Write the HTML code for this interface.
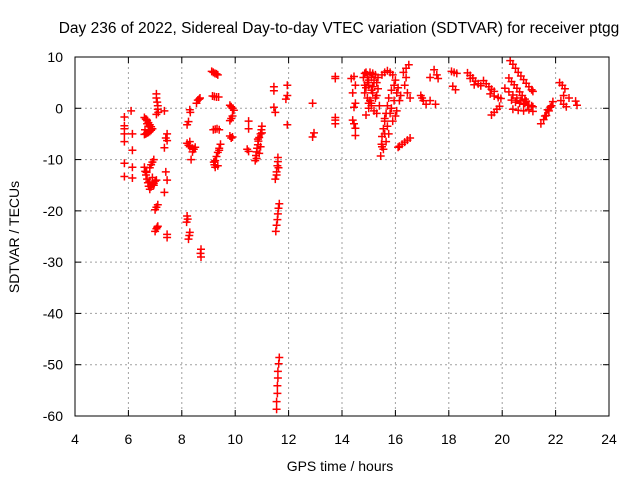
<!DOCTYPE html>
<html><head><meta charset="utf-8"><style>
html,body{margin:0;padding:0;background:#fff}
svg{display:block;font-family:"Liberation Sans",sans-serif}
</style></head><body>
<svg id="chart" width="640" height="480" viewBox="0 0 640 480">
<text x="339" y="33" font-size="15.5" text-anchor="middle" fill="#000">Day 236 of 2022, Sidereal Day-to-day VTEC variation (SDTVAR) for receiver ptgg</text>
<text x="340" y="471" font-size="14" text-anchor="middle" fill="#000">GPS time / hours</text>
<text transform="translate(19,237) rotate(-90)" font-size="14" text-anchor="middle" fill="#000">SDTVAR / TECUs</text>
<g id="grid"></g>
<g id="points"></g>
<rect x="75" y="57" width="534" height="359" fill="none" stroke="#000" stroke-width="1"/>
<g id="ticks"></g>
</svg>
<script>
const xTicks = [4,6,8,10,12,14,16,18,20,22,24];
const yTicks = [10,0,-10,-20,-30,-40,-50,-60];
// [GPS time (h), SDTVAR (TECU)]
const earlyObs = [
[5.85,-1.7],[5.85,-3.4],[5.85,-4.0],[5.85,-5.0],[5.85,-6.5],[5.85,-10.7],[5.85,-13.3],
[6.1,-0.5],[6.15,-5],[6.15,-8.2],[6.15,-11.5],[6.15,-13.6],
[6.6,-1.8],[6.65,-2.1],[6.7,-2.4],[6.75,-2.8],[6.8,-3.2],[6.85,-3.6],[6.9,-4.0],[6.85,-4.3],[6.8,-4.5],[6.75,-4.7],[6.7,-4.8],[6.65,-5.0],[6.6,-5.1],[6.7,-3.0],[6.75,-3.5],[6.62,-4.2],[6.68,-2.2],
[6.95,-10.0],[6.9,-10.5],[6.85,-11.0],[6.8,-11.6],[6.6,-11.5],[6.63,-12.3],[6.66,-13.0],[6.7,-13.8],[6.73,-14.5],[6.76,-15.2],[6.8,-15.8],[6.85,-15.3],[6.9,-14.8],[6.95,-14.6],[7.0,-14.2],[7.05,-14.0],[6.9,-13.5],[6.95,-15.0],[6.68,-12.5],[6.78,-14.2],
[7.05,2.8],[7.05,2.0],[7.08,1.2],[7.1,0.5],[7.1,-0.2],[7.12,-0.8],[7.05,-1.2],[7.1,-18.8],[7.05,-19.3],[7.0,-19.8],[7.1,-23.0],[7.05,-23.5],[7.0,-24.0],[7.08,-23.2],
[7.35,-0.5],[7.45,-5.0],[7.4,-5.8],[7.45,-6.3],[7.35,-7.7],[7.4,-12.4],[7.45,-14.0],[7.35,-16.4],[7.45,-25.2],[7.45,-24.6],
[8.2,-21.0],[8.22,-21.6],[8.18,-22.2],[8.3,-24.2],[8.28,-24.8],[8.25,-25.5],[8.25,-2.6],[8.2,-3.2],[8.3,-0.3],[8.32,-0.8],[8.35,-10.0],[8.2,-6.8],[8.25,-7.2],[8.3,-7.5],[8.4,-7.8],[8.45,-8.0],[8.5,-7.6],[8.4,-8.5],[8.3,-6.5],
[8.55,1.0],[8.6,1.6],[8.65,1.8],[8.68,2.0],[8.72,-27.5],[8.7,-28.3],[8.72,-29.0]
];
const midObs = [
[9.12,7.2],[9.18,7.0],[9.24,6.8],[9.3,6.7],[9.35,6.5],[9.15,2.4],[9.22,2.3],[9.3,2.2],[9.38,2.2],[9.18,-4.2],[9.25,-4.1],[9.32,-4.0],[9.4,-4.2],
[9.45,-7.0],[9.4,-7.8],[9.35,-8.6],[9.3,-9.4],[9.25,-10.2],[9.22,-11.0],[9.25,-11.5],[9.35,-11.2],[9.2,-10.5],[9.4,-8.2],
[9.8,0.6],[9.85,0.3],[9.9,0],[9.95,-0.4],[9.9,-1.5],[9.85,-2.0],[9.8,-2.4],[9.8,-5.4],[9.9,-5.6],[9.85,-5.8],
[10.5,-2.5],[10.5,-4.0],[10.45,-8.0],[10.5,-8.4],
[11.0,-3.5],[10.98,-4.2],[10.95,-5.0],[10.9,-5.7],[10.87,-6.4],[10.85,-7.1],[10.82,-7.8],[10.8,-8.5],[10.78,-9.2],[10.8,-9.8],[10.75,-10.2],[10.85,-6.0],[10.9,-8.8],[11.0,-4.8],[10.95,-7.5],
[11.45,4.2],[11.45,3.4],[11.45,0.2],[11.5,-0.8],[11.6,-9.6],[11.6,-10.4],[11.58,-11.2],[11.62,-11.6],[11.55,-12.4],[11.55,-13.0],[11.5,-13.8],
[11.65,-18.6],[11.62,-19.5],[11.6,-20.6],[11.58,-21.7],[11.55,-22.8],[11.52,-24.0],
[11.95,4.5],[11.95,2.5],[11.9,1.8],[11.95,-3.2],
[12.9,1.0],[12.95,-4.8],[12.9,-5.6],
[11.65,-48.6],[11.63,-49.8],[11.6,-51.3],[11.6,-52.6],[11.58,-54.1],[11.58,-55.6],[11.55,-57.2],[11.55,-58.7]
];
const lateObs = [
[13.75,6.2],[13.75,5.8],[13.75,-1.8],[13.75,-2.3],[13.75,-3.0],
[14.35,5.8],[14.45,6.2],[14.5,4.5],[14.4,3.0],[14.5,1.0],[14.45,0.2],[14.4,-2.3],[14.45,-3.0],[14.5,-3.9],[14.5,-5.3],
[14.8,6.0],[14.85,6.8],[14.9,7.0],[14.95,6.5],[15.0,5.5],[15.05,7.0],[15.1,6.0],[15.15,6.8],[15.2,5.5],[15.25,6.5],[15.3,5.0],[15.35,6.0],
[14.85,4.5],[14.9,4.0],[15.0,4.5],[15.1,3.5],[15.2,5.0],[15.3,2.5],[14.85,3.0],[14.95,2.0],[15.05,1.5],[15.15,3.0],[15.25,2.0],
[15.0,1.0],[15.1,0.5],[15.2,-0.5],[14.9,-1.3],[15.0,0.0],[15.1,1.0],[15.2,-0.5],[15.3,-1.0],[15.4,0.5],[14.95,5.0],[15.15,4.2],[15.35,3.8],
[15.5,6.5],[15.6,7.0],[15.7,7.3],[15.8,7.0],[15.9,6.5],[16.0,5.5],[16.1,4.0],[16.2,2.5],[16.15,1.5],[16.05,3.0],[15.95,4.5],[15.85,3.5],
[15.75,2.0],[15.7,0.5],[15.65,-1.0],[15.6,-2.5],[15.55,-4.0],[15.5,-5.5],[15.48,-7.0],[15.45,-9.3],[15.6,-2.0],[15.7,-3.5],[15.8,-1.0],
[15.9,-2.5],[16.0,-1.5],[15.75,-5.0],[15.65,-6.5],[15.55,-8.0],[15.85,0.0],[15.95,1.5],[16.05,-0.5],[15.5,-7.5],[15.6,-5.0],
[16.55,-5.8],[16.45,-6.2],[16.35,-6.6],[16.25,-7.0],[16.15,-7.4],[16.1,-7.6],
[16.3,7.0],[16.4,7.8],[16.5,8.5],[16.35,4.5],[16.45,3.0],[16.55,2.0],[16.4,6.0],
[16.95,2.5],[17.05,1.5],[17.15,0.8],[17.0,2.0],
[17.3,6.0],[17.45,7.5],[17.55,6.5],[17.6,5.8],[17.3,1.5],[17.5,0.8],
[18.1,7.2],[18.2,7.0],[18.3,6.8],[18.15,4.3],[18.25,3.6],
[18.7,6.9],[18.8,6.4],[18.9,5.9],[19.0,5.3],[19.1,4.8],[19.2,4.4],[18.8,5.8],[18.95,4.6],
[19.3,5.4],[19.4,4.8],[19.5,4.2],[19.6,3.7],[19.7,3.3],
[19.55,2.8],[19.7,2.4],[19.85,2.1],[19.95,1.9],[19.6,-1.3],[19.7,-0.8],[19.8,-0.2],[19.9,0.4],
[20.3,9.3],[20.4,8.6],[20.5,7.8],[20.6,7.0],[20.7,6.3],[20.8,5.6],[20.9,4.9],[21.0,4.2],[21.1,3.6],[21.15,3.3],
[20.25,5.9],[20.35,5.2],[20.45,4.6],[20.55,3.9],[20.65,3.2],[20.75,2.5],[20.85,1.8],[20.9,1.4],
[20.1,3.9],[20.25,3.2],[20.4,2.6],[20.55,2.0],[20.7,1.5],[20.85,1.0],[21.0,0.6],[21.15,0.3],
[20.35,1.6],[20.5,1.2],[20.65,1.0],[20.8,0.8],[20.95,0.6],[21.1,0.5],[20.4,-0.2],[20.6,-0.4],[20.8,-0.5],[21.0,-0.3],[21.15,-0.6],
[21.45,-3.0],[21.55,-2.2],[21.65,-1.4],[21.75,-0.5],[21.85,0.5],[21.9,1.3],[21.6,-1.5],[21.7,-0.3],[21.8,0.2],
[22.15,5.0],[22.25,4.5],[22.35,3.8],[22.3,2.5],[22.2,1.5],[22.3,0.8],[22.4,0.3],[22.5,2.0],[22.75,1.4],[22.8,0.6]
];
const NS='http://www.w3.org/2000/svg';
const X0=75,X1=609,Y0=416,Y1=57;
function sx(v){return X0+(v-4)/(24-4)*(X1-X0);}
function sy(v){return Y0-(v+60)/(10+60)*(Y0-Y1);}
const grid=document.getElementById('grid'),ticks=document.getElementById('ticks'),pts=document.getElementById('points');
function mk(tag,attrs,parent){const e=document.createElementNS(NS,tag);for(const k in attrs)e.setAttribute(k,attrs[k]);parent.appendChild(e);return e;}
xTicks.forEach(t=>{
  const x=sx(t);
  if(t>4&&t<24){const g=mk('line',{x1:x,x2:x,y1:Y1,y2:Y0,stroke:'#a0a0a0','stroke-dasharray':'2,3','stroke-width':1},grid);
  
  }
  mk('line',{x1:x,x2:x,y1:Y0,y2:Y0-6,stroke:'#000'},ticks);
  mk('line',{x1:x,x2:x,y1:Y1,y2:Y1+6,stroke:'#000'},ticks);
  const tx=mk('text',{x:x,y:Y0+28,'font-size':14,'text-anchor':'middle',fill:'#000'},ticks);
  tx.textContent=t;
  
  
});
yTicks.forEach(t=>{
  const y=sy(t);
  if(t<10&&t>-60){const g=mk('line',{x1:X0,x2:X1,y1:y,y2:y,stroke:'#a0a0a0','stroke-dasharray':'2,3','stroke-width':1},grid);
  
  }
  mk('line',{x1:X0,x2:X0+6,y1:y,y2:y,stroke:'#000'},ticks);
  mk('line',{x1:X1,x2:X1-6,y1:y,y2:y,stroke:'#000'},ticks);
  const tx=mk('text',{x:X0-12,y:y+5,'font-size':14,'text-anchor':'end',fill:'#000'},ticks);
  tx.textContent=t;
  
  
});
let d='';
[earlyObs,midObs,lateObs].forEach(arr=>arr.forEach(o=>{
  const x=sx(o[0]),y=sy(o[1]);
  d+=`M${(x-4).toFixed(1)} ${y.toFixed(1)}h8M${x.toFixed(1)} ${(y-4).toFixed(1)}v8`;
}));
const p=mk('path',{d:d,stroke:'#ff0000','stroke-width':1.5,fill:'none'},pts);


</script>
</body></html>
